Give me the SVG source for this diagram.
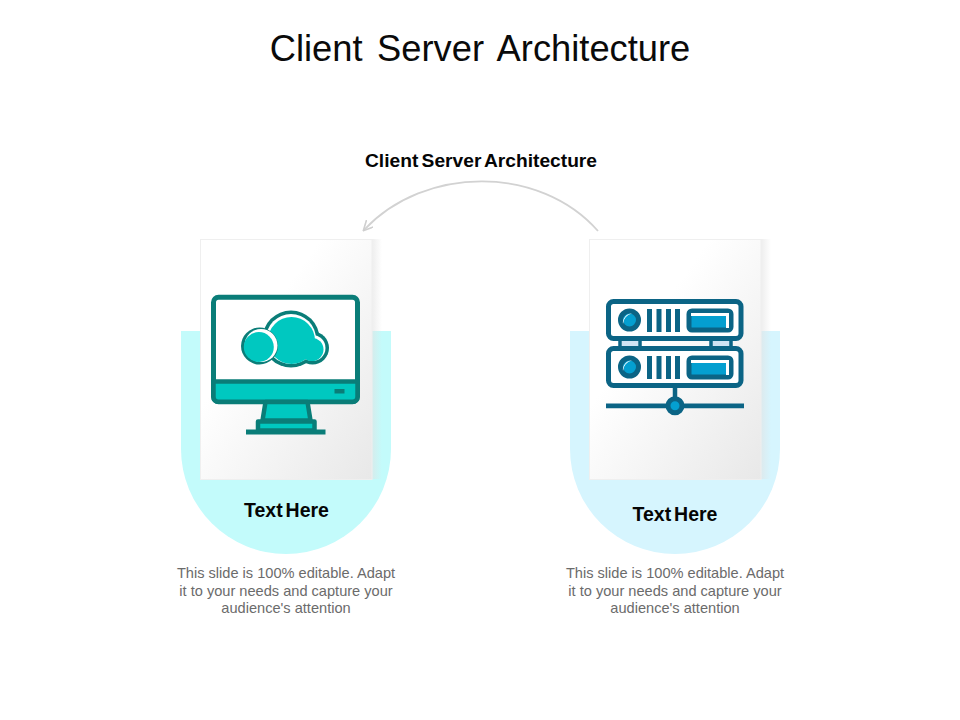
<svg xmlns="http://www.w3.org/2000/svg" width="960" height="720" viewBox="0 0 960 720">
<style>
text{font-family:"Liberation Sans",Arial,sans-serif;text-anchor:middle}
.title{font-size:36.300px;fill:#0a0a0a;word-spacing:4.5px}
.head{font-size:19.200px;font-weight:bold;fill:#050505;word-spacing:-2px}
.head2{font-size:19.500px;font-weight:bold;fill:#050505;word-spacing:-2.5px}
.body{font-size:14.600px;fill:#6b6b6b}
.t{stroke:#0a7d78;stroke-width:4.5;fill:#00c8c0;stroke-linejoin:round}
.s{stroke:#0b6485;stroke-width:5;fill:#fff;stroke-linejoin:round}
.sf{stroke:#0b6485;stroke-width:5;fill:#049fd0;stroke-linejoin:round}
.cd{fill:#0a7d78}
.cf{fill:#00c8c0}
</style>
<defs>
<linearGradient id="card" x1="0" y1="0" x2="1" y2="1"><stop offset="0.35" stop-color="#ffffff"/><stop offset="1" stop-color="#e8e8e8"/></linearGradient>
<linearGradient id="side" x1="0" y1="0" x2="1" y2="0"><stop offset="0" stop-color="#e2e2e2"/><stop offset="1" stop-color="#e2e2e2" stop-opacity="0"/></linearGradient>
<marker id="arr" markerWidth="11" markerHeight="11" refX="9" refY="5" orient="auto" markerUnits="userSpaceOnUse"><path d="M0 0L10 5L0 10" fill="none" stroke="#cfcfcf" stroke-width="1.6"/></marker>
</defs>
<text class="title" x="480" y="61">Client Server Architecture</text>
<text class="head" x="481" y="167">Client Server Architecture</text>
<g id="connectors"><path d="M598 231C540 165 425 165 364 230" fill="none" stroke="#d2d2d2" stroke-width="1.8" marker-end="url(#arr)"/></g>
<g id="client">
<path d="M181 331H391V449A105 105 0 0 1 181 449Z" fill="#c3fbfb"/>
<rect x="372" y="239" width="10" height="240" fill="url(#side)" opacity="0.6"/>
<rect x="200.500" y="239.500" width="171.500" height="240" fill="url(#card)" stroke="#efefef"/>
<rect x="213.500" y="297.300" width="144" height="104.500" rx="5" fill="#fff" stroke="#0a7d78" stroke-width="5"/>
<path d="M213.500 381.500H357.500V396.800a5 5 0 0 1-5 5H218.500a5 5 0 0 1-5-5Z" class="t"/>
<rect x="334.500" y="389" width="10" height="4.500" fill="#0a7d78"/>
<path d="M265.500 402L262.500 420.500H310.500L307.500 402Z" class="t"/>
<rect x="258" y="421.500" width="56.500" height="9" class="t"/>
<rect x="246" y="429.500" width="79.500" height="5" fill="#0a7d78"/>
<circle class="cd" cx="291" cy="339" r="28.500"/>
<circle class="cd" cx="312.500" cy="348" r="16.500"/>
<circle fill="#fff" cx="291" cy="339" r="25"/>
<circle fill="#fff" cx="312.500" cy="348" r="13"/>
<circle class="cf" cx="291.500" cy="340.500" r="23.500"/>
<circle class="cf" cx="312" cy="349.500" r="11.500"/>
<circle class="cd" cx="259.500" cy="346" r="18.500"/>
<circle fill="#fff" cx="261" cy="345.500" r="16.500"/>
<circle class="cf" cx="258.800" cy="347" r="15"/>
</g>
<g id="server">
<path d="M570 331H780V449A105 105 0 0 1 570 449Z" fill="#d6f5fe"/>
<rect x="761" y="239" width="10" height="240" fill="url(#side)" opacity="0.6"/>
<rect x="589.500" y="239.500" width="171.500" height="240" fill="url(#card)" stroke="#efefef"/>
<rect x="622" y="340" width="16" height="6.500" fill="#cfe3f3"/>
<rect x="712" y="340" width="18" height="6.500" fill="#cfe3f3"/>
<path d="M620 339V347M640 339V347M711 339V347M731 339V347" stroke="#0b6485" stroke-width="3.500"/>
<rect x="608.500" y="301.500" width="132.500" height="37" rx="5" class="s"/>
<rect x="608.500" y="348.500" width="132.500" height="37" rx="5" class="s"/>
<circle cx="629.500" cy="320" r="9" class="sf"/>
<circle cx="629.500" cy="367" r="9" class="sf"/>
<path d="M623 324A9 9 0 0 1 632 313.500A11 11 0 0 0 623 324ZM623 371A9 9 0 0 1 632 360.500A11 11 0 0 0 623 371Z" fill="#fff"/>
<path d="M649.500 309V332M659 309V332M668.500 309V332M677.500 309V332M649.500 356V379M659 356V379M668.500 356V379M677.500 356V379" stroke="#0b6485" stroke-width="5" fill="none"/>
<rect x="689" y="311" width="42" height="19" rx="3" class="sf"/>
<rect x="689" y="358" width="42" height="19" rx="3" class="sf"/>
<path d="M691 313H729V328H726V316H691ZM691 360H729V375H726V363H691Z" fill="#fff"/>
<path d="M675 387V400" stroke="#0b6485" stroke-width="4.500"/>
<path d="M606 405.800H744" stroke="#0b6485" stroke-width="4.800"/>
<circle cx="675" cy="405.800" r="7" class="sf"/>
</g>
<g id="label-left">
<text class="head2" x="286.500" y="517">Text Here</text>
<text class="body" x="286" y="578">This slide is 100% editable. Adapt</text>
<text class="body" x="286" y="596">it to your needs and capture your</text>
<text class="body" x="286" y="613">audience's attention</text>
</g>
<g id="label-right">
<text class="head2" x="675" y="521">Text Here</text>
<text class="body" x="675" y="578">This slide is 100% editable. Adapt</text>
<text class="body" x="675" y="596">it to your needs and capture your</text>
<text class="body" x="675" y="613">audience's attention</text>
</g>
</svg>
